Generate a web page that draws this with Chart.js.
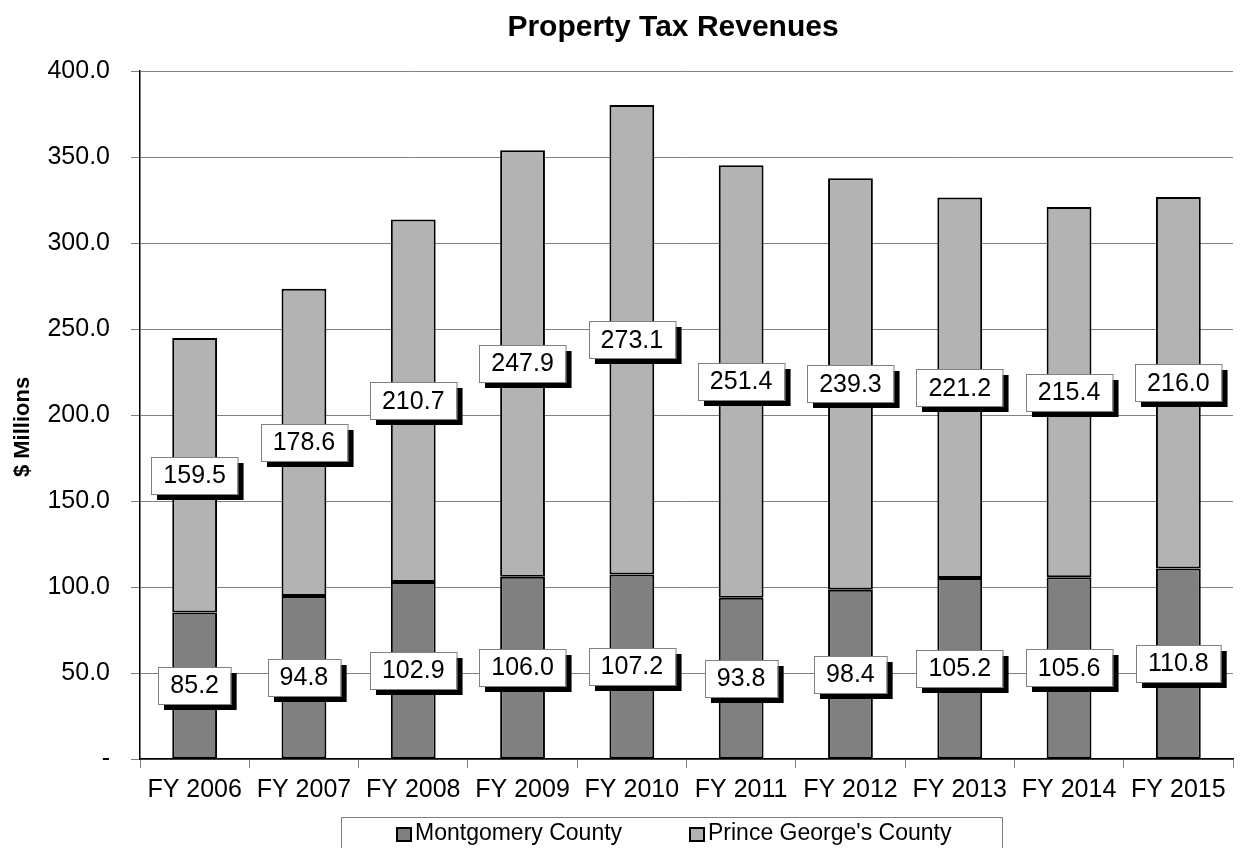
<!DOCTYPE html>
<html>
<head>
<meta charset="utf-8">
<script src="https://cdn.jsdelivr.net/npm/chart.js@4.4.1/dist/chart.umd.min.js"></script>
<style>
    html, body { margin:0; padding:0; background:#fff; }
    #wrap { width:1241px; height:848px; position:relative; }
</style>
</head>
<body>
<div id="wrap"><canvas id="chart" width="1241" height="848"></canvas></div>
<script>
const years = ['FY 2006','FY 2007','FY 2008','FY 2009','FY 2010','FY 2011','FY 2012','FY 2013','FY 2014','FY 2015'];
const montgomery = [85.2, 94.8, 102.9, 106.0, 107.2, 93.8, 98.4, 105.2, 105.6, 110.8];
const princeGeorges = [159.5, 178.6, 210.7, 247.9, 273.1, 251.4, 239.3, 221.2, 215.4, 216.0];
const seriesNames = ['Montgomery County', "Prince George's County"];
const seriesColors = ['#808080', '#b3b3b3'];

const FONT = '"Liberation Sans", Arial, sans-serif';

// boxed value labels with a black drop shadow, centred in each segment
const boxLabels = {
    id:'boxLabels',
    afterDatasetsDraw(chart) {
        const ctx = chart.ctx;
        ctx.save();
        ctx.font = `25px ${FONT}`;
        ctx.textAlign = 'center';
        ctx.textBaseline = 'middle';
        chart.data.datasets.forEach((ds, di) => {
            chart.getDatasetMeta(di).data.forEach((bar, i) => {
                const text = ds.data[i].toFixed(1);
                const w = ctx.measureText(text).width + 24;
                const h = 37;
                const cx = bar.x;
                const cy = (bar.y + bar.base) / 2;
                const x = Math.round(cx - w / 2);
                const y = Math.round(cy - h / 2);
                ctx.fillStyle = '#000';
                ctx.fillRect(x + 6, y + 6, w, h);
                ctx.fillStyle = '#fff';
                ctx.fillRect(x, y, w, h);
                ctx.strokeStyle = '#808080';
                ctx.lineWidth = 1;
                ctx.strokeRect(x + 0.5, y + 0.5, w, h);
                ctx.fillStyle = '#000';
                ctx.fillText(text, cx, cy + 1);
            });
        });
        ctx.restore();
    }
};

// title, y title and boxed legend
const decorations = {
    id:'decorations',
    afterDraw(chart) {
        const ctx = chart.ctx;
        ctx.save();
        ctx.fillStyle = '#000';
        ctx.font = `bold 30px ${FONT}`;
        ctx.textAlign = 'center';
        ctx.textBaseline = 'alphabetic';
        ctx.fillText('Property Tax Revenues', 673, 36);

        ctx.save();
        ctx.translate(29, 427);
        ctx.rotate(-Math.PI / 2);
        ctx.font = `bold 22px ${FONT}`;
        ctx.fillText('$ Millions', 0, 0);
        ctx.restore();

        ctx.strokeStyle = '#808080';
        ctx.lineWidth = 1;
        ctx.strokeRect(341.5, 817.5, 661, 40);

        ctx.font = `23px ${FONT}`;
        ctx.textAlign = 'left';
        ctx.textBaseline = 'middle';
        const starts = [397, 690];
        seriesNames.forEach((name, i) => {
            const sx = starts[i];
            ctx.fillStyle = seriesColors[i];
            ctx.fillRect(sx, 828, 14, 13);
            ctx.strokeStyle = '#000';
            ctx.lineWidth = 2;
            ctx.strokeRect(sx, 828, 14, 13);
            ctx.fillStyle = '#000';
            ctx.fillText(name, sx + 18, 834);
        });
        ctx.restore();
    }
};

new Chart(document.getElementById('chart'), {
    type:'bar',
    data:{
        labels:years,
        datasets:[
            { label:seriesNames[0], data:montgomery, backgroundColor:seriesColors[0] },
            { label:seriesNames[1], data:princeGeorges, backgroundColor:seriesColors[1] }
        ].map(ds => Object.assign(ds, {
            borderColor:'#000',
            borderWidth:2,
            borderSkipped:false,
            barPercentage:0.41,
            categoryPercentage:1
        }))
    },
    options:{
        responsive:false,
        animation:false,
        layout:{ padding:{ top:71, right:8, bottom:0, left:0 } },
        plugins:{ legend:{ display:false }, tooltip:{ enabled:false }, title:{ display:false } },
        scales:{
            x:{
                stacked:true,
                afterFit(scale) { scale.height = 89; },
                grid:{ drawOnChartArea:false, drawTicks:true, tickLength:9, color:'#808080', offset:true },
                border:{ color:'#000', width:1.5 },
                ticks:{ color:'#000', font:{ family:FONT, size:25 }, padding:7, autoSkip:false, maxRotation:0 }
            },
            y:{
                stacked:true,
                min:0,
                max:400,
                afterFit(scale) { scale.width = 140; },
                grid:{ color:'#808080', tickLength:9, lineWidth:1 },
                border:{ color:'#000', width:1.5 },
                ticks:{
                    stepSize:50,
                    color:'#000',
                    padding:21,
                    font:{ family:FONT, size:25 },
                    callback:v => v === 0 ? '-' : v.toFixed(1)
                }
            }
        }
    },
    plugins:[boxLabels, decorations]
});
</script>
</body>
</html>
